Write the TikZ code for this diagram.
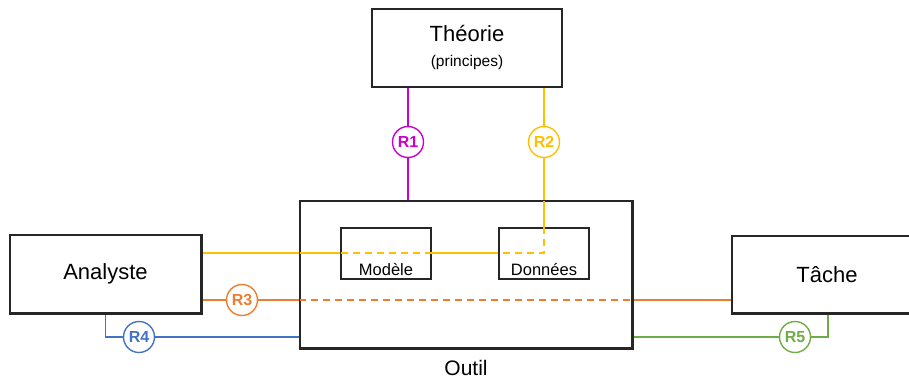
\documentclass[tikz,border=0pt]{standalone}
\usepackage{fontspec}
\setmainfont{Liberation Sans}
\definecolor{cmag}{HTML}{CC00CC}
\definecolor{cyel}{HTML}{FFC000}
\definecolor{corg}{HTML}{ED7D31}
\definecolor{cblu}{HTML}{4472C4}
\definecolor{cgrn}{HTML}{70AD47}
\definecolor{cbox}{HTML}{262626}
\begin{document}
\begin{tikzpicture}[x=1pt,y=-1pt,
  box/.style={draw=cbox,line width=1.5pt,fill=white,inner sep=0pt,font=\fontsize{22}{26}\selectfont},
  inbox/.style={draw=cbox,line width=1.5pt,inner sep=0pt,minimum width=90pt,minimum height=51pt},
  small/.style={font=\fontsize{16.5}{19}\selectfont,inner sep=0pt},
  rel/.style={circle,draw=#1,text=#1,fill=white,line width=1.4pt,minimum size=31pt,inner sep=0pt,font=\fontsize{16}{19}\selectfont\bfseries},
  conn/.style={line width=1.4pt},
  dsh/.style={dash pattern=on 7pt off 5pt}]
\clip (0,0) rectangle (909,380);
% boxes
\node[box,minimum width=190pt,minimum height=78pt,align=center] (theorie) at (467,48)
  {Th\'eorie\\[-1pt]{\fontsize{15.5}{18}\selectfont (principes)}};
\node[box,minimum width=332pt,minimum height=147pt] (outil) at (466,274.5) {};
\node[box,minimum width=191pt,minimum height=78pt] (analyste) at (105.5,274) {Analyste};
\node[box,minimum width=190pt,minimum height=77pt] (tache) at (827,274.5) {T\^ache};
\node[inbox] (modele) at (386,253.5) {};
\node[inbox] (donnees) at (544,253.5) {};
\node[small,anchor=base] (tmod) at (386,275) {Mod\`ele};
\node[small,anchor=base] (tdon) at (544,275) {Donn\'ees};
\node[font=\fontsize{21}{24}\selectfont,inner sep=0pt] (toutil) at (466,368) {Outil};
% relation circles
\node[rel=cmag] (r1) at (408,142) {R1};
\node[rel=cyel] (r2) at (544,142) {R2};
\node[rel=corg] (r3) at (242,300) {R3};
\node[rel=cblu] (r4) at (139,337) {R4};
\node[rel=cgrn] (r5) at (795,337) {R5};
\coordinate (y2) at (544,253);
\coordinate (c5) at (828,337);
\coordinate (c4) at (105.5,337);
% R1
\draw[conn,cmag] (r1 |- theorie.south) -- (r1);
\draw[conn,cmag] (r1) -- (r1 |- outil.north);
% R2
\draw[conn,cyel] (r2 |- theorie.south) -- (r2);
\draw[conn,cyel] (r2) -- (r2 |- donnees.north);
\draw[conn,cyel,dsh] (r2 |- donnees.north) -- (y2) -- (donnees.west |- y2);
\draw[conn,cyel] (donnees.west |- y2) -- (modele.east |- y2);
\draw[conn,cyel,dsh] (modele.east |- y2) -- (modele.west |- y2);
\draw[conn,cyel] (modele.west |- y2) -- (analyste.east |- y2);
% R3
\draw[conn,corg] (analyste.east |- r3) -- (r3);
\draw[conn,corg] (r3) -- (outil.west |- r3);
\draw[conn,corg,dsh] (outil.west |- r3) -- (outil.east |- r3);
\draw[conn,corg] (outil.east |- r3) -- (tache.west |- r3);
% R4
\draw[conn,cblu] (analyste.south) -- (c4) -- (r4);
\draw[conn,cblu] (r4) -- (outil.west |- r4);
% R5
\draw[conn,cgrn] (outil.east |- r5) -- (r5);
\draw[conn,cgrn] (r5) -- (c5) -- (c5 |- tache.south);
% redraw box borders on top of the connectors
\draw[cbox,line width=1.5pt] (outil.north west) rectangle (outil.south east);
\draw[cbox,line width=1.5pt] (analyste.north west) rectangle (analyste.south east);
\draw[cbox,line width=1.5pt] (tache.north west) rectangle (tache.south east);
\end{tikzpicture}
\end{document}
